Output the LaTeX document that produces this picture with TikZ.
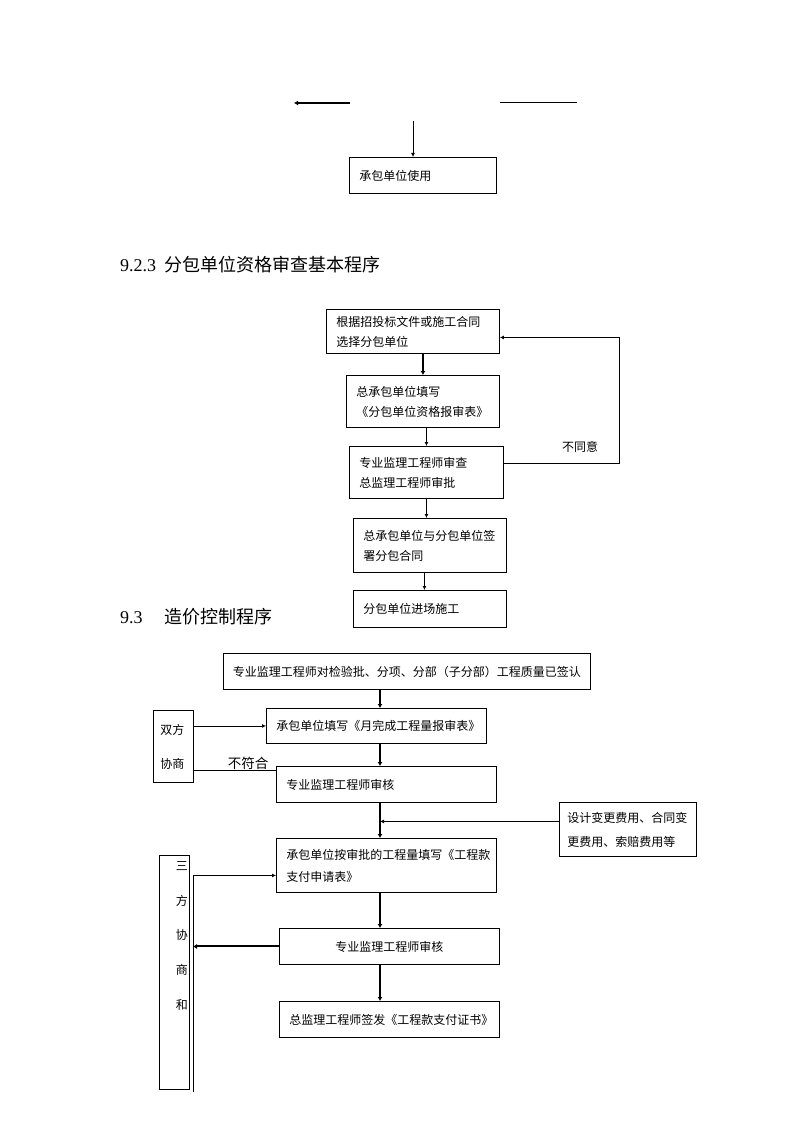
\documentclass[tikz,border=0pt]{standalone}
\usepackage{fontspec}
\setmainfont{Liberation Serif}
\newfontfamily\cjk{Noto Sans CJK SC}
\usetikzlibrary{arrows.meta}
\begin{document}
\begin{tikzpicture}[x=1pt,y=-1pt,
  box/.style={draw, line width=0.9pt, anchor=north west, inner xsep=10pt, inner ysep=0pt, align=left, font=\cjk\fontsize{12}{20}\selectfont},
  cbox/.style={box, align=center},
  conn/.style={line width=0.9pt},
  arr/.style={conn, -{Latex[length=4pt,width=4pt]}},
  marr/.style={line width=1.3pt, -{Latex[length=4pt,width=4pt]}},
  tarr/.style={line width=2pt, -{Latex[length=4pt,width=5pt]}},
  lbl/.style={inner sep=0pt, font=\cjk\fontsize{12}{14}\selectfont},
  head/.style={anchor=base west, inner sep=0pt, font=\fontsize{18}{22}\selectfont}]
\useasboundingbox[fill=white] (0,0) rectangle (794,1123);

% ---- top fragment
\coordinate (t1a) at (350,103);
\coordinate (t1b) at (294,103);
\coordinate (t2a) at (500,102);
\coordinate (t2b) at (577,102);
\coordinate (t3) at (413,121);
\draw[tarr] (t1a) -- (t1b);
\draw[conn] (t2a) -- (t2b);
\node[box, text width=127pt, minimum height=36pt] (use) at (349,157) {承包单位使用};
\draw[arr] (t3) -- (t3 |- use.north);

% ---- heading 9.2.3
\node[head] (h1) at (120,271) {9.2.3\hspace{8pt}{\cjk 分包单位资格审查基本程序}};

% ---- flow 2
\node[box, text width=153pt, minimum height=44pt] (b1) at (326,309) {根据招投标文件或施工合同\\选择分包单位};
\node[box, text width=133pt, minimum height=52pt] (b2) at (346,375) {总承包单位填写\\《分包单位资格报审表》};
\node[box, text width=134pt, minimum height=52pt] (b3) at (349,446) {专业监理工程师审查\\总监理工程师审批};
\node[box, text width=133pt, minimum height=54pt] (b4) at (353,518) {总承包单位与分包单位签\\署分包合同};
\node[box, text width=133pt, minimum height=37pt] (b5) at (353,590) {分包单位进场施工};
\draw[tarr] (b2.north |- b1.south) -- (b2.north);
\draw[marr] (b3.north |- b2.south) -- (b3.north);
\draw[arr] (b3.south) -- (b3.south |- b4.north);
\draw[arr] ([xshift=-5.5pt]b4.south) -- ([xshift=-5.5pt]b4.south |- b5.north);
\draw[arr] ([yshift=9pt]b3.east) -- ++(116,0) |- ([yshift=-6pt]b1.east);
\node[lbl] (disagree) at (580,447) {不同意};

% ---- heading 9.3
\node[head] (h2) at (120,623) {9.3\hspace{22pt}{\cjk 造价控制程序}};

% ---- flow 3
\node[cbox, inner xsep=8pt, text width=351pt, minimum height=36pt] (A) at (223,653) {专业监理工程师对检验批、分项、分部（子分部）工程质量已签认};
\node[box, text width=200pt, minimum height=35pt] (B) at (266,708) {承包单位填写《月完成工程量报审表》};
\node[box, text width=200pt, minimum height=36pt] (C) at (276,766) {专业监理工程师审核};
\node[box, text width=200pt, minimum height=54pt, font=\cjk\fontsize{12}{22}\selectfont] (D) at (276,838) {承包单位按审批的工程量填写《工程款\\支付申请表》};
\node[cbox, text width=200pt, minimum height=36pt] (E) at (279,928) {专业监理工程师审核};
\node[cbox, text width=200pt, minimum height=36pt] (F) at (279,1001) {总监理工程师签发《工程款支付证书》};
\node[box, inner xsep=7pt, text width=26pt, minimum height=72pt, font=\cjk\fontsize{12}{34}\selectfont] (S) at (153,710) {双方\\协商};
\node[box, inner xsep=8pt, text width=121pt, minimum height=54pt, font=\cjk\fontsize{12}{24}\selectfont] (T) at (559,802) {设计变更费用、合同变\\更费用、索赔费用等};
\node[draw, line width=0.9pt, anchor=north west, inner sep=0pt, minimum width=30pt, font=\cjk\fontsize{12}{34.75}\selectfont] (M) at (159,855)
  {\parbox[c][234pt][t]{27pt}{\raggedleft\vspace*{6pt}三\\方\\协\\商\\和}};

\coordinate (col) at (380,0);
\coordinate (vl) at (193,0);
\coordinate (vlend) at (193,1092);
\draw[tarr] (A.south -| col) -- (B.north -| col);
\draw[tarr] (B.south -| col) -- (C.north -| col);
\draw[tarr] (C.south -| col) -- (D.north -| col);
\draw[tarr] (D.south -| col) -- (E.north -| col);
\draw[tarr] (E.south -| col) -- (F.north -| col);
\draw[arr] (S.east |- B.west) -- (B.west);
\draw[conn] ([yshift=-24pt]S.east) -- ([yshift=-24pt]S.east -| C.west);
\node[inner sep=0pt, font=\cjk\fontsize{13.5}{15}\selectfont] (nofit) at (248,763) {不符合};
\draw[arr] ([yshift=8pt]T.west) -- ([yshift=8pt]T.west -| col);
\draw[tarr] (E.west) -- (E.west -| vl);
\draw[conn] ([yshift=-10pt]D.west -| vl) -- (vlend);
\draw[arr] ([yshift=-10pt]D.west -| vl) -- ([yshift=-10pt]D.west);
\end{tikzpicture}
\end{document}
